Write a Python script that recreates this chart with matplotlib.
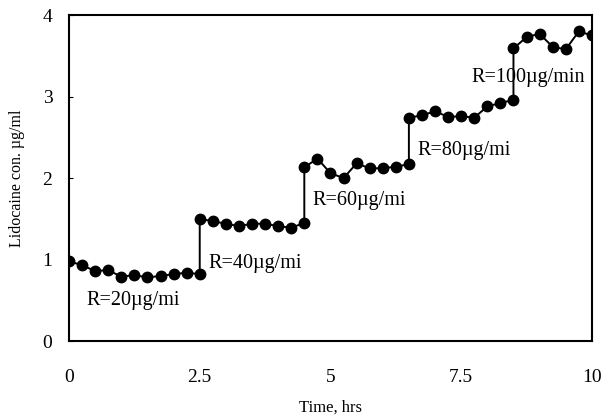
import matplotlib
matplotlib.use("Agg")
import matplotlib.pyplot as plt

# -----------------------------------------------------
# DATA (jumps repeat the time value)
# -----------------------------------------------------

time_hrs = [
    0, 0.25, 0.5, 0.75, 1.0, 1.25, 1.5, 1.75, 2.0, 2.25, 2.5,
    2.5, 2.75, 3.0, 3.25, 3.5, 3.75, 4.0, 4.25, 4.5,
    4.5, 4.75, 5.0, 5.25, 5.5, 5.75, 6.0, 6.25, 6.5,
    6.5, 6.75, 7.0, 7.25, 7.5, 7.75, 8.0, 8.25, 8.5,
    8.5, 8.75, 9.0, 9.25, 9.5, 9.75, 10.0,
]

conc = [
    0.98, 0.93, 0.86, 0.87, 0.79, 0.81, 0.78, 0.80, 0.82, 0.84, 0.82,
    1.50, 1.47, 1.44, 1.41, 1.44, 1.44, 1.41, 1.39, 1.45,
    2.13, 2.24, 2.06, 2.00, 2.18, 2.12, 2.12, 2.14, 2.17,
    2.74, 2.77, 2.82, 2.75, 2.76, 2.74, 2.88, 2.92, 2.96,
    3.59, 3.73, 3.77, 3.61, 3.58, 3.80, 3.75,
]

rate_labels = ["R=20\u00b5g/mi", "R=40\u00b5g/mi", "R=60\u00b5g/mi",
               "R=80\u00b5g/mi", "R=100\u00b5g/min"]
label_x = [0.33, 2.66, 4.65, 6.67, 7.69]
label_y = [0.50, 0.95, 1.73, 2.34, 3.24]

x_ticks = [0, 2.5, 5, 7.5, 10]
x_tick_labels = ["0", "2.5", "5", "7.5", "10"]
y_ticks = [0, 1, 2, 3, 4]

# -----------------------------------------------------
# FIGURE
# -----------------------------------------------------

plt.rcParams["font.family"] = ["Liberation Serif", "DejaVu Serif"]

fig = plt.figure(figsize=(6.14, 4.19), dpi=100)
ax = fig.add_axes([0.1124, 0.186, 0.8516, 0.778])

ax.plot(
    time_hrs,
    conc,
    color="black",
    linewidth=1.4,
    marker="o",
    markersize=7.5,
    markerfacecolor="black",
    markeredgecolor="black",
)

for txt, tx, ty in zip(rate_labels, label_x, label_y):
    ax.text(tx, ty, txt, ha="left", va="center", fontsize=14.5)

# -----------------------------------------------------
# FORMATTING
# -----------------------------------------------------

ax.set_xlim(0, 10)
ax.set_ylim(0, 4)
ax.set_xticks(x_ticks)
ax.set_xticklabels(x_tick_labels)
ax.set_yticks(y_ticks)

ax.tick_params(axis="x", direction="in", length=0, pad=20, labelsize=14)
ax.tick_params(axis="y", direction="in", length=3, pad=12, labelsize=14)

for spine in ax.spines.values():
    spine.set_linewidth(1.5)

ax.set_xlabel("Time, hrs", fontsize=12)
ax.set_ylabel("Lidocaine con. \u00b5g/ml", fontsize=11.5)
ax.xaxis.set_label_coords(0.5, -0.18)
ax.yaxis.set_label_coords(-0.084, 0.5)

fig.savefig("out.png", dpi=100)
